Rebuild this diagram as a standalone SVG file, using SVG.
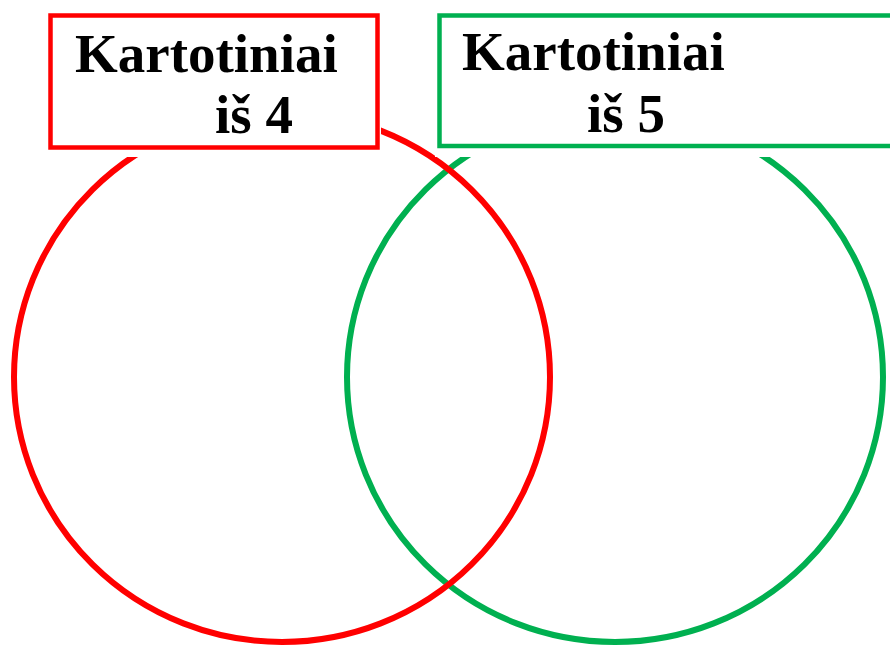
<svg xmlns="http://www.w3.org/2000/svg" width="890" height="648" viewBox="0 0 890 648">
  <style>
    .ring { fill: none; stroke-width: 6; }
    .box { fill: #FFFFFF; stroke-width: 4.5; }
    .cover { fill: #FFFFFF; stroke: none; }
    .label { font-family: "Liberation Serif", "Times New Roman", serif; font-weight: bold; font-size: 55px; fill: #000000; }
  </style>
  <rect x="0" y="0" width="890" height="648" fill="#FFFFFF"/>
  <g id="set-5-circle">
    <ellipse class="ring" cx="615" cy="377" rx="268" ry="265" stroke="#00B050"/>
  </g>
  <g id="set-4-circle">
    <ellipse class="ring" cx="282" cy="377" rx="268" ry="265" stroke="#FF0000"/>
  </g>
  <g id="set-4-label">
    <rect class="cover" x="46" y="10" width="335" height="147"/>
    <rect class="box" x="50.5" y="15.5" width="327" height="132" stroke="#FF0000"/>
    <text class="label" x="75" y="72">Kartotiniai</text>
    <text class="label" x="215" y="133">iš 4</text>
  </g>
  <g id="set-5-label">
    <rect class="cover" x="435" y="10" width="460" height="147"/>
    <rect class="box" x="439.5" y="15.5" width="460" height="130.5" stroke="#00B050"/>
    <text class="label" x="462" y="70">Kartotiniai</text>
    <text class="label" x="587" y="132">iš 5</text>
  </g>
</svg>
